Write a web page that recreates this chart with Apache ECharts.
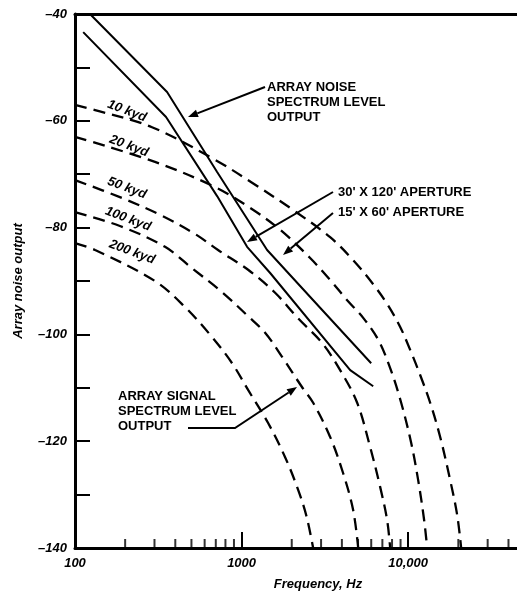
<!DOCTYPE html>
<html>
<head>
<meta charset="utf-8">
<script src="https://cdn.jsdelivr.net/npm/echarts@6/dist/echarts.min.js"></script>
<style>
  html, body { margin: 0; padding: 0; background: #fff; }
  #chart { width: 517px; height: 592px; }
</style>
</head>
<body>
<div id="chart"></div>
<script>
// [frequency Hz, output dB]
var kyd10 = [[100, -57], [132, -58], [290, -61.2], [693, -67.3], [1156, -71.6], [2039, -76.7], [3400, -81.8],
  [4674, -86.1], [6166, -90.6], [7478, -94.3], [8954, -98.6], [10280, -102.9], [11800, -107.6],
  [13550, -112.8], [15560, -119.2], [17870, -127.3], [19680, -133.8], [20800, -140]];
var kyd20 = [[100, -63], [302, -67.7], [693, -72.4], [1125, -76.3], [1703, -80.4], [2579, -85.7], [3400, -89.8],
  [4303, -93.6], [5370, -96.9], [6607, -101], [7796, -106.3], [9077, -112.8], [10420, -120.3],
  [11480, -127.3], [12470, -134.8], [13000, -140]];
var kyd50 = [[100, -71.1], [186, -74.3], [324, -77.6], [526, -81.2], [722, -84.2], [1094, -87.9], [1589, -92.2],
  [2185, -97.0], [3043, -101.6], [3905, -106.7], [4940, -112.8], [5911, -121.1], [6792, -128.6],
  [7478, -134.8], [7796, -140]];
var kyd100 = [[100, -77.1], [186, -79.7], [347, -83.6], [504, -87.6], [764, -92.1], [1094, -96.6], [1384, -99.7],
  [1750, -104.2], [2309, -109.9], [2689, -112.8], [3400, -119.2], [4071, -126], [4674, -132.9], [5012, -140]];
var kyd200 = [[100, -82.9], [132, -84.2], [302, -90], [458, -94.9], [665, -100.5], [877, -105.4], [1094, -110.4],
  [1443, -116.6], [1825, -123], [2185, -129.1], [2450, -134], [2689, -140]];
var aperture15x60 = [[123, -40], [357, -54.6], [713, -69.6], [1423, -84.2], [2960, -95.0], [5995, -105.4]];
var aperture30x120 = [[112, -43.4], [352, -59.3], [713, -74.1], [1079, -83.6], [1484, -88.5], [4487, -106.7], [6166, -109.7]];

var rangeNames = ['10 kyd', '20 kyd', '50 kyd', '100 kyd', '200 kyd'];
var xMajorTicks = [100, 1000, 10000];
var xMajorLabels = ['100', '1000', '10,000'];
var xMinorTicks = [200, 300, 400, 500, 600, 700, 800, 900,
  2000, 3000, 4000, 5000, 6000, 7000, 8000, 9000, 20000, 30000, 40000];
var yLabelValues = [-40, -60, -80, -100, -120, -140];

var FONT = 'Liberation Sans';
var chart = echarts.init(document.getElementById('chart'));

function dashed(data) {
  return {
    type: 'line', data: data, symbol: 'none', smooth: 0.35, silent: true,
    lineStyle: { color: '#000', width: 2.3, type: [12, 7] }
  };
}
function solid(data) {
  return {
    type: 'line', data: data, symbol: 'none', smooth: false, silent: true,
    lineStyle: { color: '#000', width: 2 }
  };
}

// arrow = leader line + filled head at the last point
function arrow(pts) {
  var n = pts.length, tip = pts[n - 1], prev = pts[n - 2];
  var a = Math.atan2(tip[1] - prev[1], tip[0] - prev[0]);
  var L = 10, W = 3.8;
  var bx = tip[0] - L * Math.cos(a), by = tip[1] - L * Math.sin(a);
  var head = [tip, [bx + W * Math.sin(a), by - W * Math.cos(a)], [bx - W * Math.sin(a), by + W * Math.cos(a)]];
  return [
    { type: 'polyline', shape: { points: pts.slice(0, -1).concat([[bx, by]]) }, style: { stroke: '#000', lineWidth: 2, fill: null } },
    { type: 'polygon', shape: { points: head }, style: { fill: '#000' } }
  ];
}
function note(text, x, y) {
  return {
    type: 'text', x: x, y: y,
    style: { text: text, fill: '#000', font: 'bold 13px "' + FONT + '"', lineHeight: 15, textVerticalAlign: 'top' }
  };
}
function rangeLabel(text, x, y) {
  return {
    type: 'text', x: x, y: y, rotation: -0.36,
    style: { text: text, fill: '#000', font: 'italic bold 13px "' + FONT + '"', textAlign: 'center', textVerticalAlign: 'middle' }
  };
}

var labelPos = [[127, 111], [129, 146], [127, 188], [128, 219], [132, 252]];
var graphics = [];
rangeNames.forEach(function (t, i) { graphics.push(rangeLabel(t, labelPos[i][0], labelPos[i][1])); });
graphics.push(note('ARRAY NOISE\nSPECTRUM LEVEL\nOUTPUT', 267, 80));
graphics.push(note("30' X 120' APERTURE", 338, 185));
graphics.push(note("15' X 60' APERTURE", 338, 205));
graphics.push(note('ARRAY SIGNAL\nSPECTRUM LEVEL\nOUTPUT', 118, 389));
graphics = graphics
  .concat(arrow([[265, 87], [188, 117]]))
  .concat(arrow([[333, 192], [247, 242]]))
  .concat(arrow([[333, 213], [283, 255]]))
  .concat(arrow([[188, 428], [235, 428], [297, 387]]));

var option = {
  animation: false,
  backgroundColor: '#fff',
  grid: { left: 75, right: 0, top: 14, bottom: 44, containLabel: false, outerBoundsMode: 'none' },
  xAxis: [{
    type: 'log', logBase: 10, min: 100, max: 45000,
    name: 'Frequency, Hz', nameLocation: 'middle', nameGap: 30,
    nameTextStyle: { fontFamily: FONT, fontWeight: 'bold', fontStyle: 'italic', fontSize: 13, color: '#000', padding: [0, 0, 0, 44] },
    axisLine: { lineStyle: { color: '#000', width: 3 } },
    axisTick: { inside: true, length: 16, lineStyle: { color: '#000', width: 2 } },
    axisLabel: {
      color: '#000', fontFamily: FONT, fontWeight: 'bold', fontStyle: 'italic', fontSize: 13, margin: 9,
      showMaxLabel: false,
      formatter: function (v) {
        var i = xMajorTicks.indexOf(Math.round(v));
        return i >= 0 ? xMajorLabels[i] : '';
      }
    },
    splitLine: { show: false }
  }, {
    type: 'log', logBase: 10, min: 100, max: 45000, position: 'top',
    axisLine: { lineStyle: { color: '#000', width: 3 } },
    axisTick: { show: false }, axisLabel: { show: false }, splitLine: { show: false }
  }],
  yAxis: {
    type: 'value', min: -140, max: -40, interval: 10,
    name: 'Array noise output', nameLocation: 'middle', nameGap: 50, nameRotate: 90,
    nameTextStyle: { fontFamily: FONT, fontWeight: 'bold', fontStyle: 'italic', fontSize: 13, color: '#000' },
    axisLine: { lineStyle: { color: '#000', width: 3 } },
    axisTick: { inside: true, length: 15, lineStyle: { color: '#000', width: 2 } },
    axisLabel: {
      color: '#000', fontFamily: FONT, fontWeight: 'bold', fontStyle: 'italic', fontSize: 13, margin: 8,
      formatter: function (v) {
        return yLabelValues.indexOf(v) >= 0 ? String(v).replace('-', '\u2013') : '';
      }
    },
    splitLine: { show: false }
  },
  series: [
    dashed(kyd10), dashed(kyd20), dashed(kyd50), dashed(kyd100), dashed(kyd200),
    solid(aperture15x60), solid(aperture30x120),
    {
      type: 'scatter', silent: true, clip: false,
      data: xMinorTicks.map(function (f) { return [f, -140]; }),
      symbol: 'rect', symbolSize: [2, 9], symbolOffset: [0, -4.5],
      itemStyle: { color: '#000' }
    }
  ],
  graphic: graphics
};
chart.setOption(option);
</script>
</body>
</html>
